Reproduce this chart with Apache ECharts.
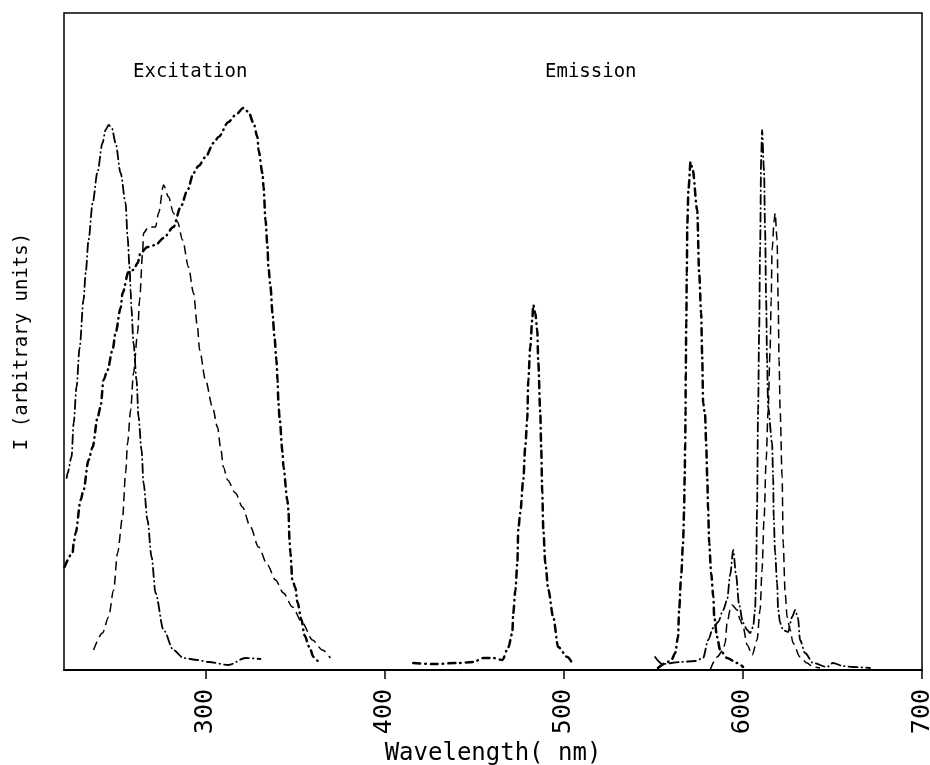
<!DOCTYPE html>
<html>
<head>
<meta charset="utf-8">
<script src="https://cdn.jsdelivr.net/npm/echarts@6/dist/echarts.min.js"></script>
<style>
html,body{margin:0;padding:0;background:#fff;}
#chart{width:930px;height:765px;}
</style>
</head>
<body>
<div id="chart"></div>
<script>
// ---- data: [wavelength (nm), intensity (arbitrary units)] ----
// Excitation spectra
const excitationA = [[222.5,192],[223.0,197],[225.2,213],[226.4,247],[228.0,283],[229.7,322],[231.9,370],[233.1,397],[234.7,430],[237.0,467],[239.7,498],[242.5,527],[244.2,540],[245.9,545],[247.7,542],[249.8,527],[252.6,497],[255.4,467],[256.5,433],[257.6,403],[258.2,380],[258.6,363],[259.8,327],[261.5,290],[262.6,253],[264.3,220],[265.4,187],[267.6,150],[269.9,113],[272.1,77],[276.6,40],[282.1,20],[287.7,12],[295.5,10],[301.7,8],[312.8,5],[322.3,12],[330.7,11]];
const excitationB = [[237.5,20],[242.5,37],[245.9,53],[248.7,80],[250.9,117],[253.7,153],[255.4,197],[256.5,227],[258.2,260],[259.8,297],[262.1,337],[263.2,370],[264.9,417],[265.4,437],[268.2,443],[272.1,443],[273.8,457],[276.6,485],[279.4,473],[282.1,457],[284.4,448],[287.2,430],[290.5,403],[293.3,377],[295.5,343],[296.7,320],[300.0,290],[303.9,263],[306.7,243],[308.4,223],[310.0,203],[312.3,190],[316.7,177],[320.6,163],[325.1,143],[329.6,123],[334.6,105],[339.1,90],[343.5,77],[348.5,63],[354.1,47],[359.7,30],[365.3,20],[369.7,12]];
const excitationC = [[221.3,103],[225.8,117],[226.4,127],[227.5,137],[230.3,170],[231.9,180],[234.7,210],[237.0,223],[239.7,252],[241.4,263],[243.1,290],[245.3,300],[248.1,320],[249.8,337],[252.6,362],[253.7,377],[257.0,398],[259.8,400],[262.1,407],[263.7,417],[267.6,423],[272.1,425],[276.6,432],[282.1,443],[286.1,463],[290.0,480],[293.3,497],[296.1,504],[300.0,513],[304.5,527],[307.3,533],[312.8,548],[316.7,555],[321.2,562],[324.0,558],[326.8,547],[329.0,533],[329.6,520],[331.8,497],[332.4,483],[333.5,450],[334.6,423],[335.1,403],[336.3,383],[337.4,357],[338.5,333],[339.6,310],[340.2,290],[340.7,268],[341.3,253],[343.0,218],[343.5,203],[345.7,170],[346.3,160],[346.9,130],[347.4,117],[348.5,90],[350.2,82],[351.3,68],[353.6,50],[355.2,35],[358.0,23],[360.3,13],[363.0,8]];
// Emission spectra
const emissionD1 = [[416.0,7],[427.2,6],[440.6,7],[449.5,8],[455.1,12],[460.7,12],[465.7,10],[469.1,23],[471.3,37],[471.8,57],[473.0,80],[474.1,107],[474.6,140],[475.7,157],[477.4,190],[478.5,223],[479.6,250],[480.2,290],[481.3,323],[482.4,350],[483.0,365],[484.1,357],[485.2,340],[485.8,307],[486.9,257],[487.4,223],[488.0,177],[488.6,140],[489.7,107],[491.4,80],[494.1,53],[496.9,23],[502.0,13],[505.3,5]];
const emissionD2 = [[552.6,2],[557.1,7],[560.4,11],[562.2,17],[563.8,33],[564.4,60],[565.5,93],[566.6,127],[567.2,160],[567.5,193],[567.8,227],[568.0,260],[568.1,297],[568.4,347],[568.7,397],[569.0,447],[569.6,480],[570.8,508],[572.0,500],[574.5,460],[575.6,397],[576.7,357],[577.3,313],[577.8,267],[578.9,255],[579.5,227],[580.1,193],[580.6,160],[581.2,127],[582.3,97],[583.5,73],[584.0,53],[585.6,33],[587.3,20],[591.2,12],[596.8,7],[600.1,3]];
const emissionE = [[551.0,13],[555.0,6],[565.0,8],[573.4,9],[577.8,12],[580.6,30],[583.4,42],[586.2,48],[589.0,60],[591.2,70],[592.9,95],[594.6,120],[596.2,95],[597.9,65],[600.1,47],[602.4,40],[604.0,37],[605.7,43],[606.8,60],[607.4,93],[607.9,160],[608.5,260],[609.1,340],[609.6,420],[610.2,510],[610.7,540],[611.8,500],[612.4,440],[613.0,370],[613.5,310],[614.1,263],[616.3,227],[616.9,193],[617.2,153],[618.0,117],[619.1,87],[619.7,60],[620.8,47],[622.5,40],[625.2,38],[627.5,53],[629.2,60],[630.8,52],[631.9,30],[634.7,17],[639.2,7],[647.0,3],[650.3,7],[655.9,4],[661.5,3],[671.0,2]];
const emissionF = [[581.7,0],[585.6,13],[589.0,20],[590.1,27],[591.2,47],[592.9,60],[594.0,65],[596.8,60],[598.5,50],[600.1,43],[602.4,25],[605.2,15],[607.9,30],[609.6,60],[610.7,100],[611.8,150],[613.0,210],[614.1,260],[615.2,320],[615.8,370],[616.3,420],[617.5,450],[618.0,457],[619.1,430],[619.7,370],[620.2,310],[620.8,260],[621.9,193],[622.5,127],[623.6,77],[624.7,53],[626.4,40],[628.0,27],[631.9,13],[635.8,7],[639.2,3],[643.1,2]];
// Axis ticks
const xTicks = [300, 400, 500, 600, 700];

const MONO = '"DejaVu Sans Mono", "Liberation Mono", monospace';
const styleDashDot = {color:'#000', width:1.8, type:[9,4,0.5,4], cap:'round'};
const styleDashDotHeavy = {color:'#000', width:2.5, type:[7,5,0.5,5], cap:'round'};
const styleDashed = {color:'#000', width:1.5, type:[9,5], cap:'butt'};

function curve(data, ls) {
  return {type:'line', data:data, showSymbol:false, smooth:0.3, smoothMonotone:'x',
          lineStyle:ls, silent:true, animation:false, z:3};
}

const chart = echarts.init(document.getElementById('chart'), null, {renderer:'canvas'});
chart.setOption({
  backgroundColor:'#fff',
  animation:false,
  title:[
    {text:'Excitation', left:128, top:58, textStyle:{fontFamily:MONO, fontSize:19, fontWeight:'normal', color:'#000'}},
    {text:'Emission', left:540, top:58, textStyle:{fontFamily:MONO, fontSize:19, fontWeight:'normal', color:'#000'}}
  ],
  grid:{left:64, right:8, top:13, bottom:95, containLabel:false, outerBoundsMode:'none',
        show:true, borderColor:'#000', borderWidth:1.5, backgroundColor:'transparent'},
  xAxis:{
    type:'value', min:221, max:700,
    name:'Wavelength( nm)', nameLocation:'middle', nameGap:66,
    nameTextStyle:{fontFamily:MONO, fontSize:24, color:'#000'},
    axisLine:{show:true, lineStyle:{color:'#000', width:1.8}},
    axisTick:{show:true, customValues:xTicks, length:9, lineStyle:{color:'#000', width:1.5}},
    axisLabel:{show:true, customValues:xTicks, rotate:90, margin:19, fontFamily:MONO, fontSize:25, color:'#000'},
    splitLine:{show:false}
  },
  yAxis:{
    type:'value', min:0, max:657,
    name:'I (arbitrary units)', nameLocation:'middle', nameGap:32, nameRotate:90,
    nameTextStyle:{fontFamily:MONO, fontSize:19, color:'#000'},
    axisLine:{show:false}, axisTick:{show:false}, axisLabel:{show:false}, splitLine:{show:false}
  },
  series:[
    curve(excitationA, styleDashDot),
    curve(excitationB, styleDashed),
    curve(excitationC, styleDashDotHeavy),
    curve(emissionD1, styleDashDotHeavy),
    curve(emissionD2, styleDashDotHeavy),
    curve(emissionE, styleDashDot),
    curve(emissionF, styleDashed)
  ]
});
</script>
</body>
</html>
